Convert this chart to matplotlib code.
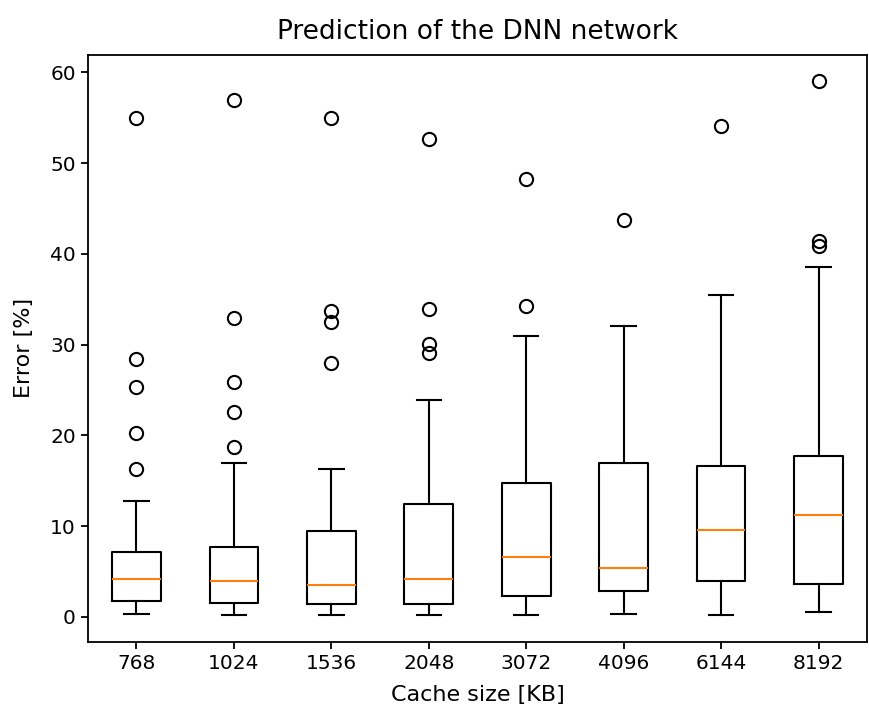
import matplotlib
matplotlib.use("Agg")
import matplotlib.pyplot as plt

# cache sizes (KB) on the x axis
cache_sizes = ['768', '1024', '1536', '2048', '3072', '4096', '6144', '8192']

# box statistics, error in %
medians = [4.2, 3.9, 3.5, 4.2, 6.6, 5.4, 9.6, 11.2]
q1s = [1.8, 1.5, 1.4, 1.4, 2.3, 2.8, 3.9, 3.6]
q3s = [7.2, 7.7, 9.5, 12.4, 14.7, 17.0, 16.6, 17.7]
whis_lo = [0.35, 0.17, 0.17, 0.17, 0.17, 0.35, 0.17, 0.5]
whis_hi = [12.8, 17.0, 16.3, 23.9, 31.0, 32.1, 35.5, 38.5]
outliers = [
    [16.3, 20.3, 25.3, 28.4, 55.0],
    [18.7, 22.6, 25.9, 32.9, 57.0],
    [28.0, 32.5, 33.7, 55.0],
    [29.1, 30.1, 33.9, 52.7],
    [34.3, 48.3],
    [43.7],
    [54.1],
    [40.9, 41.4, 59.0],
]

stats = []
for i, name in enumerate(cache_sizes):
    stats.append({
        'label': name,
        'med': medians[i],
        'q1': q1s[i],
        'q3': q3s[i],
        'whislo': whis_lo[i],
        'whishi': whis_hi[i],
        'fliers': outliers[i],
    })

lw = 1.5
fig = plt.figure(figsize=(8.69, 7.11), dpi=100)
ax = fig.add_axes([0.101, 0.097, 0.897, 0.826])

ax.bxp(stats, widths=0.5,
       boxprops=dict(linewidth=lw),
       whiskerprops=dict(linewidth=lw),
       capprops=dict(linewidth=lw),
       medianprops=dict(linewidth=lw, color='#ff7f0e'),
       flierprops=dict(marker='o', markersize=9.5, markeredgewidth=lw,
                       markerfacecolor='none'))

for s in ax.spines.values():
    s.set_linewidth(1.3)

ax.set_title('Prediction of the DNN network', fontsize=19, pad=11)
ax.set_xlabel('Cache size [KB]', fontsize=16, labelpad=9)
ax.set_ylabel('Error [%]', fontsize=16, labelpad=12)
ax.tick_params(axis='both', labelsize=14.5, length=5, width=1.3)

plt.savefig('out.png', dpi=100)
